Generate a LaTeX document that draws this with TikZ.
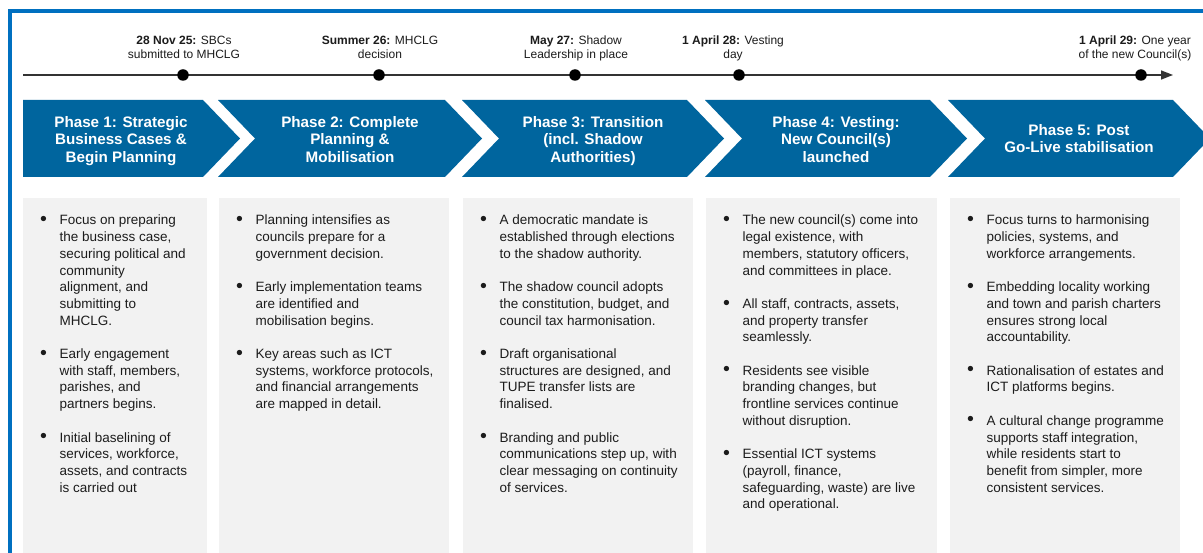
\documentclass[tikz,border=0pt]{standalone}
\usepackage{fontspec}
\usepackage{graphicx}
\setmainfont{Liberation Sans}
\usetikzlibrary{arrows.meta}
\definecolor{bordblue}{RGB}{0,112,192}
\definecolor{chevblue}{RGB}{0,101,158}
\definecolor{boxgray}{RGB}{242,242,242}
\definecolor{txtcol}{RGB}{28,28,28}
\newcommand{\bulitem}{\makebox[19.5pt][l]{\raisebox{-0.6pt}{\scalebox{1.45}{\textbullet}}}}
\newcommand{\contline}{\hspace*{19.5pt}}
\newcommand{\pgap}{\\[16.7pt]}
\begin{document}
\begin{tikzpicture}[x=1pt,y=-1pt,
  chev/.style={fill=chevblue},
  phasetext/.style={text=white,font=\fontsize{15.2}{17.5}\selectfont\bfseries,align=center,inner sep=0},
  boxbg/.style={fill=boxgray},
  boxtext/.style={anchor=north west,inner sep=0,align=left,text=txtcol,font=\fontsize{13.5}{16.7}\selectfont},
  milestone/.style={circle,fill=black,inner sep=0,minimum size=11.5pt},
  mlabel/.style={anchor=north,inner sep=0,align=center,text=txtcol,font=\fontsize{12}{14}\selectfont},
  tline/.style={line width=1.6pt,draw=black!80}
]
\useasboundingbox (0,0) rectangle (1203,553);
\fill[white] (0,0) rectangle (1203,553);
% border
\draw[bordblue,line width=3.3pt] (10,553) -- (10,11) -- (1203,11);

% timeline
\coordinate (tstart) at (23,75);
\coordinate (tend) at (1173,75);
\draw[tline,-{Triangle[length=12pt,width=9pt]}] (tstart) -- (tend);
\node[milestone] (d1) at (183,75) {};
\node[milestone] (d2) at (379,75) {};
\node[milestone] (d3) at (575,75) {};
\node[milestone] (d4) at (739,75) {};
\node[milestone] (d5) at (1141,75) {};
\node[mlabel] (l1) at (184,35.5) {\textbf{28 Nov 25:} SBCs\\submitted to MHCLG};
\node[mlabel] (l2) at (380,35.5) {\textbf{Summer 26:} MHCLG\\decision};
\node[mlabel] (l3) at (576,35.5) {\textbf{May 27:} Shadow\\Leadership in place};
\node[mlabel] (l4) at (733,35.5) {\textbf{1 April 28:} Vesting\\day};
\node[mlabel] (l5) at (1135,35.5) {\textbf{1 April 29:} One year\\of the new Council(s)};

% chevrons
\fill[chev] (23,100) -- (203,100) -- (240,138.5) -- (203,177) -- (23,177) -- cycle;
\fill[chev] (218,100) -- (445,100) -- (482,138.5) -- (445,177) -- (218,177) -- (255,138.5) -- cycle;
\fill[chev] (462,100) -- (687,100) -- (724,138.5) -- (687,177) -- (462,177) -- (499,138.5) -- cycle;
\fill[chev] (705,100) -- (930,100) -- (967,138.5) -- (930,177) -- (705,177) -- (742,138.5) -- cycle;
\fill[chev] (948,100) -- (1173,100) -- (1210,138.5) -- (1173,177) -- (948,177) -- (985,138.5) -- cycle;
\node[phasetext] (p1) at (121,141.2) {\strut Phase 1: Strategic\\Business Cases \&\\Begin Planning\strut};
\node[phasetext] (p2) at (350,141.2) {\strut Phase 2: Complete\\Planning \&\\Mobilisation\strut};
\node[phasetext] (p3) at (593,141.2) {\strut Phase 3: Transition\\(incl. Shadow\\Authorities)\strut};
\node[phasetext] (p4) at (836,141.2) {\strut Phase 4: Vesting:\\New Council(s)\\launched\strut};
\node[phasetext] (p5) at (1079,140.5) {\strut Phase 5: Post\\Go-Live stabilisation\strut};

% boxes
\fill[boxbg] (23,198) rectangle (207,553);
\fill[boxbg] (219,198) rectangle (449,553);
\fill[boxbg] (463,198) rectangle (693,553);
\fill[boxbg] (706,198) rectangle (937,553);
\fill[boxbg] (950,198) rectangle (1180,553);

\node[boxtext] (b1) at (40,215) {\bulitem Focus on preparing\\\contline the business case,\\\contline securing political and\\\contline community\\\contline alignment, and\\\contline submitting to\\\contline MHCLG.\pgap
\bulitem Early engagement\\\contline with staff, members,\\\contline parishes, and\\\contline partners begins.\pgap
\bulitem Initial baselining of\\\contline services, workforce,\\\contline assets, and contracts\\\contline is carried out};

\node[boxtext] (b2) at (236,215) {\bulitem Planning intensifies as\\\contline councils prepare for a\\\contline government decision.\pgap
\bulitem Early implementation teams\\\contline are identified and\\\contline mobilisation begins.\pgap
\bulitem Key areas such as ICT\\\contline systems, workforce protocols,\\\contline and financial arrangements\\\contline are mapped in detail.};

\node[boxtext] (b3) at (480,215) {\bulitem A democratic mandate is\\\contline established through elections\\\contline to the shadow authority.\pgap
\bulitem The shadow council adopts\\\contline the constitution, budget, and\\\contline council tax harmonisation.\pgap
\bulitem Draft organisational\\\contline structures are designed, and\\\contline TUPE transfer lists are\\\contline finalised.\pgap
\bulitem Branding and public\\\contline communications step up, with\\\contline clear messaging on continuity\\\contline of services.};

\node[boxtext] (b4) at (723,215) {\bulitem The new council(s) come into\\\contline legal existence, with\\\contline members, statutory officers,\\\contline and committees in place.\pgap
\bulitem All staff, contracts, assets,\\\contline and property transfer\\\contline seamlessly.\pgap
\bulitem Residents see visible\\\contline branding changes, but\\\contline frontline services continue\\\contline without disruption.\pgap
\bulitem Essential ICT systems\\\contline (payroll, finance,\\\contline safeguarding, waste) are live\\\contline and operational.};

\node[boxtext] (b5) at (967,215) {\bulitem Focus turns to harmonising\\\contline policies, systems, and\\\contline workforce arrangements.\pgap
\bulitem Embedding locality working\\\contline and town and parish charters\\\contline ensures strong local\\\contline accountability.\pgap
\bulitem Rationalisation of estates and\\\contline ICT platforms begins.\pgap
\bulitem A cultural change programme\\\contline supports staff integration,\\\contline while residents start to\\\contline benefit from simpler, more\\\contline consistent services.};
\end{tikzpicture}
\end{document}
